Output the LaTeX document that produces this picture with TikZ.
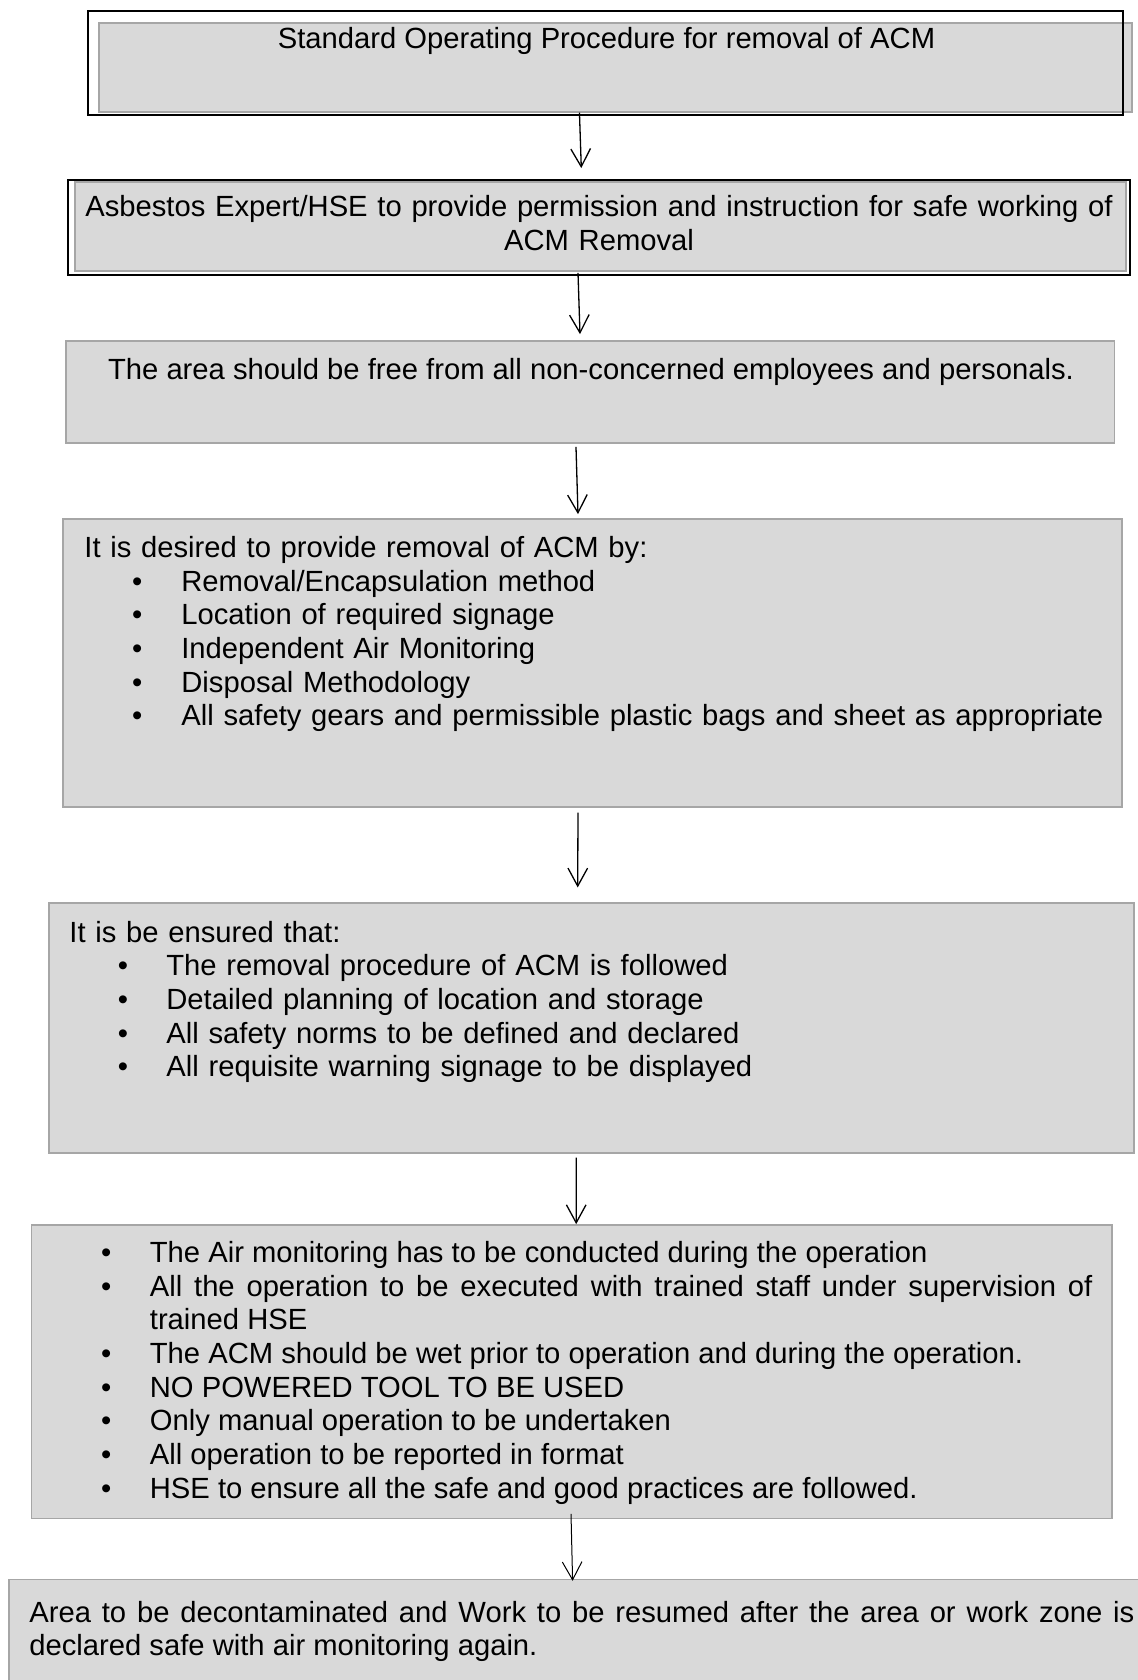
\documentclass[tikz,border=0pt]{standalone}
\usepackage{fontspec}
\setmainfont{Liberation Sans}
\usetikzlibrary{arrows.meta,fit}
\definecolor{boxfill}{HTML}{D9D9D9}
\definecolor{boxgray}{HTML}{A6A6A6}
\newcommand\bitemx[3]{\noindent\hangindent=#2\hangafter=1\relax\hspace*{#1}\makebox[\dimexpr#2-#1\relax][l]{\textbullet}#3}
\newcommand\bitem[3]{\par\bitemx{#1}{#2}{#3}}
\tikzset{
  gbox/.style={draw=boxgray, fill=boxfill, line width=0.85pt, inner sep=0pt},
  kbox/.style={draw=black, line width=0.9pt, inner sep=0pt},
  arr/.style={-{Straight Barb[length=9pt,width=9.8pt]}, line width=0.65pt},
  txt/.style={inner sep=0pt, font=\fontsize{14.6}{16.85}\selectfont},
}
\begin{document}
\begin{tikzpicture}[x=0.5pt, y=-0.5pt]
\useasboundingbox (0,0) rectangle (1138,1680);
% boxes
\node[gbox, fit={(99.3,23.3) (1132,111.7)}] (g1) {};
\node[kbox, fit={(88.3,11) (1123,115)}] (k1) {};
\node[gbox, fit={(75,181.7) (1126,270.7)}] (g2) {};
\node[kbox, fit={(68,180) (1130,275)}] (k2) {};
\node[gbox, fit={(66,340.7) (1114.5,442.7)}] (g3) {};
\node[gbox, fit={(62.7,519) (1122,806.7)}] (g4) {};
\node[gbox, fit={(49,902.7) (1134,1152.7)}] (g5) {};
\node[gbox, fit={(31.4,1225) (1112,1518.5)}] (g6) {};
\node[gbox, fit={(8.8,1579.5) (1142,1686)}] (g7) {};
% texts
\node[txt, anchor=base] (t1) at (606.5,49) {Standard Operating Procedure for removal of ACM};
\node[txt, anchor=base, text width=540pt, align=center] (t2) at (599,217)
  {Asbestos Expert/HSE to provide permission and instruction for safe working of\\ACM Removal};
\node[txt, anchor=base] (t3) at (591,379) {The area should be free from all non-concerned employees and personals.};
\node[txt, anchor=base west, text width=515pt, align=left] (t4) at (84,557.3)
  {It is desired to provide removal of ACM by:%
   \bitem{23.9pt}{48.5pt}{Removal/Encapsulation method}%
   \bitem{23.9pt}{48.5pt}{Location of required signage}%
   \bitem{23.9pt}{48.5pt}{Independent Air Monitoring}%
   \bitem{23.9pt}{48.5pt}{Disposal Methodology}%
   \bitem{23.9pt}{48.5pt}{All safety gears and permissible plastic bags and sheet as appropriate}};
\node[txt, anchor=base west, text width=515pt, align=left] (t5) at (69,942)
  {It is be ensured that:%
   \bitem{24.2pt}{48.5pt}{The removal procedure of ACM is followed}%
   \bitem{24.2pt}{48.5pt}{Detailed planning of location and storage}%
   \bitem{24.2pt}{48.5pt}{All safety norms to be defined and declared}%
   \bitem{24.2pt}{48.5pt}{All requisite warning signage to be displayed}};
\node[txt, anchor=base west, text width=495.65pt, align=justify] (t6) at (100.7,1262.3)
  {\bitemx{0pt}{24.4pt}{The Air monitoring has to be conducted during the operation}%
   \bitem{0pt}{24.4pt}{All the operation to be executed with trained staff under supervision of\linebreak trained HSE}%
   \bitem{0pt}{24.4pt}{The ACM should be wet prior to operation and during the operation.}%
   \bitem{0pt}{24.4pt}{NO POWERED TOOL TO BE USED}%
   \bitem{0pt}{24.4pt}{Only manual operation to be undertaken}%
   \bitem{0pt}{24.4pt}{All operation to be reported in format}%
   \bitem{0pt}{24.4pt}{HSE to ensure all the safe and good practices are followed.}};
\node[txt, anchor=base west, text width=552.5pt, align=justify] (t7) at (29,1622)
  {Area to be decontaminated and Work to be resumed after the area or work zone is\linebreak declared safe with air monitoring again.};
% arrows
\draw[arr] ([xshift=-18.1pt]g1.south) -- ([xshift=-8.85pt,yshift=5.5pt]k2.north);
\draw[arr] ([xshift=-10.5pt,yshift=1.5pt]k2.south) -- ([xshift=-5.13pt,yshift=2.85pt]g3.north);
\draw[arr] ([xshift=-7.13pt,yshift=-1.65pt]g3.south) -- ([xshift=-7.18pt,yshift=2pt]g4.north);
\draw[arr] ([xshift=-7.18pt,yshift=-2.5pt]g4.south) -- ([xshift=-6.9pt,yshift=7.2pt]g5.north);
\draw[arr] ([xshift=-7.65pt,yshift=-2pt]g5.south) -- ([xshift=2.25pt]g6.north);
\draw[arr, line width=0.5pt] ([xshift=-0.35pt,yshift=2.75pt]g6.south) -- ([xshift=-1.4pt,yshift=-1.1pt]g7.north);
\end{tikzpicture}
\end{document}
